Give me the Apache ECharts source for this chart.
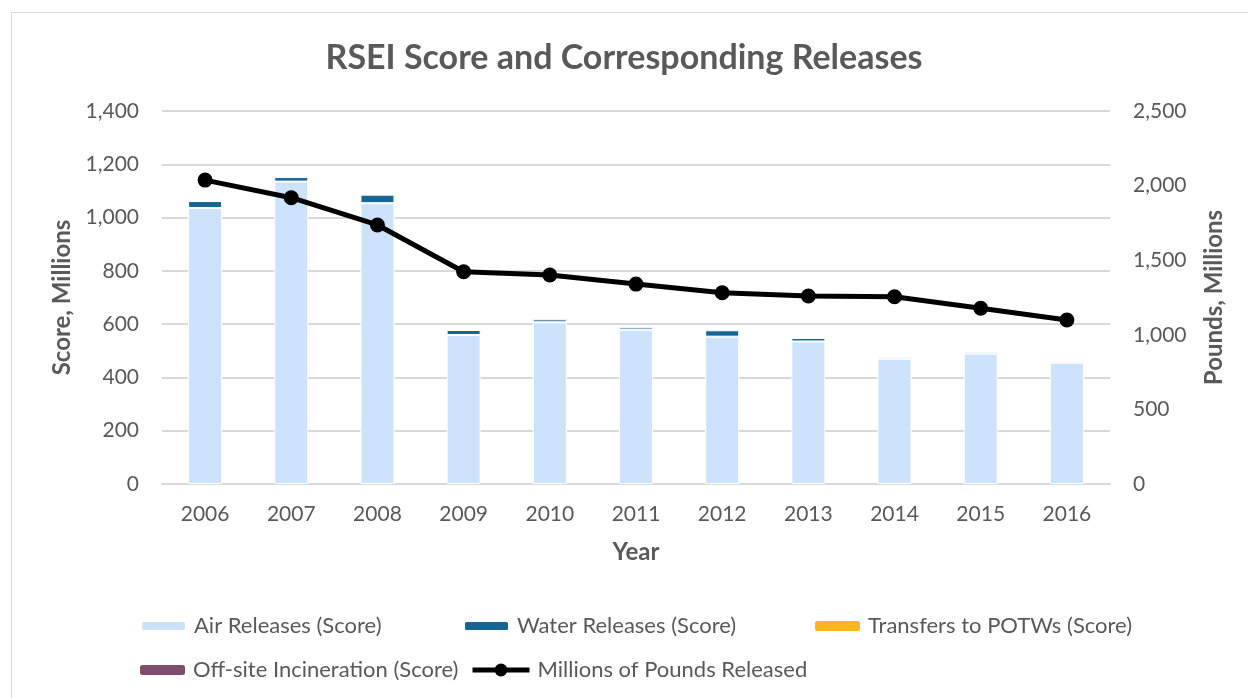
<!DOCTYPE html>
<html>
<head>
<meta charset="utf-8">
<script src="https://cdn.jsdelivr.net/npm/echarts@6/dist/echarts.min.js"></script>
<style>html,body{margin:0;padding:0;background:#fff}#c{width:1248px;height:698px}</style>
</head>
<body>
<div id="c"></div>
<script>
var years = ['2006','2007','2008','2009','2010','2011','2012','2013','2014','2015','2016'];
var airScore = [1036, 1135, 1054, 559, 607, 579, 553, 535, 470, 489, 455];
var waterScore = [26, 17, 32, 19, 11, 9, 24, 13, 6, 6, 5];
var potwScore = [0, 0, 0, 0, 0, 0, 0, 0, 0, 0, 0];
var incinScore = [0, 0, 0, 0, 0, 0, 0, 0, 0, 0, 0];
var poundsReleased = [2037, 1919, 1736, 1423, 1401, 1340, 1282, 1260, 1255, 1178, 1099];

var FONT = 'Lato, Carlito, "Open Sans", sans-serif';
var TXT = '#595959';
var chart = echarts.init(document.getElementById('c'), null, {renderer: 'canvas'});

function legendAt(name, left, top, w, h, extra) {
  var o = {
    data: [name], left: left, top: top, itemWidth: w, itemHeight: h, itemGap: 0, padding: 0,
    textStyle: {fontFamily: FONT, fontSize: 22, color: TXT, padding: [0, 0, 0, 3]},
    selectedMode: false
  };
  return Object.assign(o, extra || {});
}

var barBase = {type: 'bar', stack: 's', barWidth: 34, yAxisIndex: 0};

chart.setOption({
  animation: false,
  backgroundColor: '#fff',
  title: {
    text: 'RSEI Score and Corresponding Releases', left: 'center', top: 36,
    textStyle: {fontFamily: FONT, fontSize: 34, fontWeight: 'bold', color: TXT}
  },
  graphic: [{type: 'rect', shape: {x: 11.5, y: 12.5, width: 1260, height: 720},
    style: {fill: 'none', stroke: '#d9d9d9', lineWidth: 1}, silent: true}],
  legend: [
    legendAt('Air Releases (Score)', 140, 615, 45, 10),
    legendAt('Water Releases (Score)', 463, 615, 45, 10),
    legendAt('Transfers to POTWs (Score)', 815, 615, 45, 10),
    legendAt('Off-site Incineration (Score)', 140, 659, 45, 10),
    legendAt('Millions of Pounds Released', 470, 659, 57, 16, {lineStyle: {width: 5, color: '#000'}})
  ],
  grid: {left: 162, right: 138, top: 111, bottom: 214},
  xAxis: {
    type: 'category', data: years,
    name: 'Year', nameLocation: 'middle', nameGap: 56,
    nameTextStyle: {fontFamily: FONT, fontSize: 24, fontWeight: 'bold', color: TXT},
    axisLine: {lineStyle: {color: '#d9d9d9', width: 2}},
    axisTick: {show: false},
    axisLabel: {fontFamily: FONT, fontSize: 21, color: TXT, margin: 20}
  },
  yAxis: [{
    type: 'value', min: 0, max: 1400, interval: 200,
    name: 'Score, Millions', nameLocation: 'middle', nameGap: 88, nameRotate: 90,
    nameTextStyle: {fontFamily: FONT, fontSize: 24, fontWeight: 'bold', color: TXT},
    axisLine: {show: false}, axisTick: {show: false},
    splitLine: {lineStyle: {color: '#d9d9d9', width: 2}},
    axisLabel: {fontFamily: FONT, fontSize: 21, color: TXT, margin: 23,
      formatter: function (v) { return v.toLocaleString('en-US'); }}
  }, {
    type: 'value', min: 0, max: 2500, interval: 500, position: 'right',
    name: 'Pounds, Millions', nameLocation: 'middle', nameGap: 92, nameRotate: 90,
    nameTextStyle: {fontFamily: FONT, fontSize: 24, fontWeight: 'bold', color: TXT},
    axisLine: {show: false}, axisTick: {show: false}, splitLine: {show: false},
    axisLabel: {fontFamily: FONT, fontSize: 21, color: TXT, margin: 23,
      formatter: function (v) { return v.toLocaleString('en-US'); }}
  }],
  series: [
    Object.assign({}, barBase, {name: 'Air Releases (Score)', data: airScore, itemStyle: {color: '#cce3fb', borderColor: '#fff', borderWidth: 1}}),
    Object.assign({}, barBase, {name: 'Water Releases (Score)', data: waterScore, itemStyle: {color: '#156596', borderColor: '#fff', borderWidth: 1}}),
    Object.assign({}, barBase, {name: 'Transfers to POTWs (Score)', data: potwScore, itemStyle: {color: '#fdb71c', borderWidth: 0}}),
    Object.assign({}, barBase, {name: 'Off-site Incineration (Score)', data: incinScore, itemStyle: {color: '#7e4c6c', borderWidth: 0}}),
    {
      name: 'Millions of Pounds Released', type: 'line', yAxisIndex: 1, data: poundsReleased,
      symbol: 'circle', symbolSize: 15,
      lineStyle: {color: '#000', width: 5}, itemStyle: {color: '#000'}, z: 5
    }
  ]
});
</script>
</body>
</html>
